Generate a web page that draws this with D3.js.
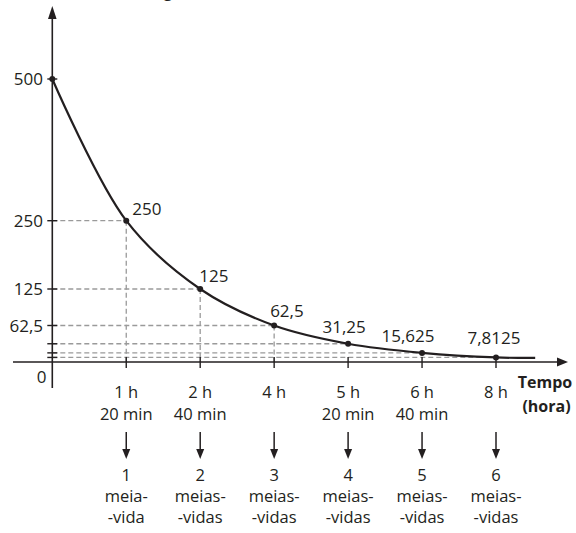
<!DOCTYPE html>
<html>
<head>
<meta charset="utf-8">
<script src="https://cdn.jsdelivr.net/npm/d3@7"></script>
<style>
  html, body { margin: 0; padding: 0; background: #fff; }
  svg { display: block; }
  text { font-family: "Open Sans", "Noto Sans", sans-serif; fill: #231f20; }
</style>
</head>
<body>
<svg id="chart" width="576" height="533"></svg>
<script>
// ---- data ----
const halfLives = [0, 1, 2, 3, 4, 5, 6];
const masses = [500, 250, 125, 62.5, 31.25, 15.625, 7.8125];
const massLabels = ["500", "250", "125", "62,5", "31,25", "15,625", "7,8125"];
const yTickLabels = ["500", "250", "125", "62,5"];
const yTickValues = [500, 250, 125, 62.5];
const timeLabels = ["1 h", "2 h", "4 h", "5 h", "6 h", "8 h"];
const timeMinLabels = ["20 min", "40 min", "", "20 min", "40 min", ""];
const halfLifeCounts = ["1", "2", "3", "4", "5", "6"];
const halfLifeWord1 = ["meia-", "meias-", "meias-", "meias-", "meias-", "meias-"];
const halfLifeWord2 = ["-vida", "-vidas", "-vidas", "-vidas", "-vidas", "-vidas"];
const curveTail = [[6.53, 7]]; // where the drawn curve ends
const yTitle = "Massa restante (mg)";
const xTitle = ["Tempo", "(hora)"];

// ---- scales ----
const x = d3.scaleLinear().domain([0, 6]).range([52.3, 496]);
const y = d3.scaleLinear().domain([0, 125, 250, 500]).range([362, 289, 220.7, 79]);

const svg = d3.select("#chart");
const ink = "#231f20";
const dashCol = "#9a9a9a";

// title (cut off at the top in the reference)
svg.append("text").attr("x", 178).attr("y", -3).attr("text-anchor", "end")
  .style("font-weight", "bold").style("font-size", "16px").text(yTitle);

// dashed guides
const pts = halfLives.map((k, i) => ({ k, m: masses[i], i }));
const g = svg.append("g");
pts.slice(1).forEach(p => {
  g.append("line").attr("x1", x(0)).attr("x2", x(p.k))
    .attr("y1", y(p.m)).attr("y2", y(p.m))
    .attr("stroke", dashCol).attr("stroke-width", 1.3).attr("stroke-dasharray", "5,3");
  if (p.i <= 3) {
    g.append("line").attr("x1", x(p.k)).attr("x2", x(p.k))
      .attr("y1", y(p.m)).attr("y2", y(0))
      .attr("stroke", dashCol).attr("stroke-width", 1.3).attr("stroke-dasharray", "5,3");
  }
});

// axes
svg.append("line").attr("x1", 13).attr("x2", 560).attr("y1", y(0)).attr("y2", y(0))
  .attr("stroke", ink).attr("stroke-width", 1.6);
svg.append("path").attr("d", `M568,${y(0)} L557,${y(0) - 4.5} L557,${y(0) + 4.5} Z`).attr("fill", ink);
svg.append("line").attr("x1", x(0)).attr("x2", x(0)).attr("y1", 388).attr("y2", 16)
  .attr("stroke", ink).attr("stroke-width", 1.6);
svg.append("path").attr("d", `M${x(0)},6 L${x(0) - 4.3},19 L${x(0) + 4.3},19 Z`).attr("fill", ink);

// y ticks
masses.forEach(m => {
  svg.append("line").attr("x1", x(0) - 5).attr("x2", x(0) + 5)
    .attr("y1", y(m)).attr("y2", y(m)).attr("stroke", ink).attr("stroke-width", 1.4);
});
// x ticks
halfLives.slice(1).forEach(k => {
  svg.append("line").attr("x1", x(k)).attr("x2", x(k))
    .attr("y1", y(0) - 5).attr("y2", y(0) + 6).attr("stroke", ink).attr("stroke-width", 1.4);
});

// y tick labels
yTickValues.forEach((v, i) => {
  svg.append("text").attr("x", 43).attr("y", y(v)).attr("dy", "0.36em")
    .attr("text-anchor", "end").style("font-size", "17px").text(yTickLabels[i]);
});
svg.append("text").attr("x", 46.5).attr("y", 383).attr("text-anchor", "end")
  .style("font-size", "17px").text("0");

// curve
const linePts = pts.map(p => [p.k, p.m]).concat(curveTail);
svg.append("path").datum(linePts)
  .attr("d", d3.line().x(d => x(d[0])).y(d => y(d[1])).curve(d3.curveCatmullRom.alpha(0.5)))
  .attr("fill", "none").attr("stroke", ink).attr("stroke-width", 2.2);

// points
svg.selectAll("circle.pt").data(pts).join("circle")
  .attr("cx", d => x(d.k)).attr("cy", d => y(d.m)).attr("r", 3).attr("fill", ink);

// point labels
const labelPos = [null, [6, -6, "start"], [-1, -7, "start"], [-4, -8.5, "start"],
                  [-4, -11, "middle"], [-14, -10.6, "middle"], [-2, -13.6, "middle"]];
pts.forEach(p => {
  const lp = labelPos[p.i];
  if (!lp) return;
  svg.append("text").attr("x", x(p.k) + lp[0]).attr("y", y(p.m) + lp[1])
    .attr("text-anchor", lp[2]).style("font-size", "17px").text(massLabels[p.i]);
});

// bottom labels
halfLives.slice(1).forEach((k, i) => {
  const cx = x(k);
  svg.append("text").attr("x", cx).attr("y", 398).attr("text-anchor", "middle")
    .style("font-size", "16.5px").text(timeLabels[i]);
  if (timeMinLabels[i]) {
    svg.append("text").attr("x", cx).attr("y", 420).attr("text-anchor", "middle")
      .style("font-size", "16.5px").text(timeMinLabels[i]);
  }
  svg.append("line").attr("x1", cx).attr("x2", cx).attr("y1", 432).attr("y2", 450)
    .attr("stroke", ink).attr("stroke-width", 1.5);
  svg.append("path").attr("d", `M${cx},459 L${cx - 4},449 L${cx + 4},449 Z`).attr("fill", ink);
  svg.append("text").attr("x", cx).attr("y", 481).attr("text-anchor", "middle")
    .style("font-size", "16.5px").text(halfLifeCounts[i]);
  svg.append("text").attr("x", cx).attr("y", 502).attr("text-anchor", "middle")
    .style("font-size", "16.5px").text(halfLifeWord1[i]);
  svg.append("text").attr("x", cx).attr("y", 523).attr("text-anchor", "middle")
    .style("font-size", "16.5px").text(halfLifeWord2[i]);
});

// x title
svg.append("text").attr("x", 545).attr("y", 388).attr("text-anchor", "middle")
  .style("font-weight", "bold").style("font-size", "16px").text(xTitle[0]);
svg.append("text").attr("x", 546.5).attr("y", 411.5).attr("text-anchor", "middle")
  .style("font-weight", "bold").style("font-size", "16px").text(xTitle[1]);
</script>
</body>
</html>
